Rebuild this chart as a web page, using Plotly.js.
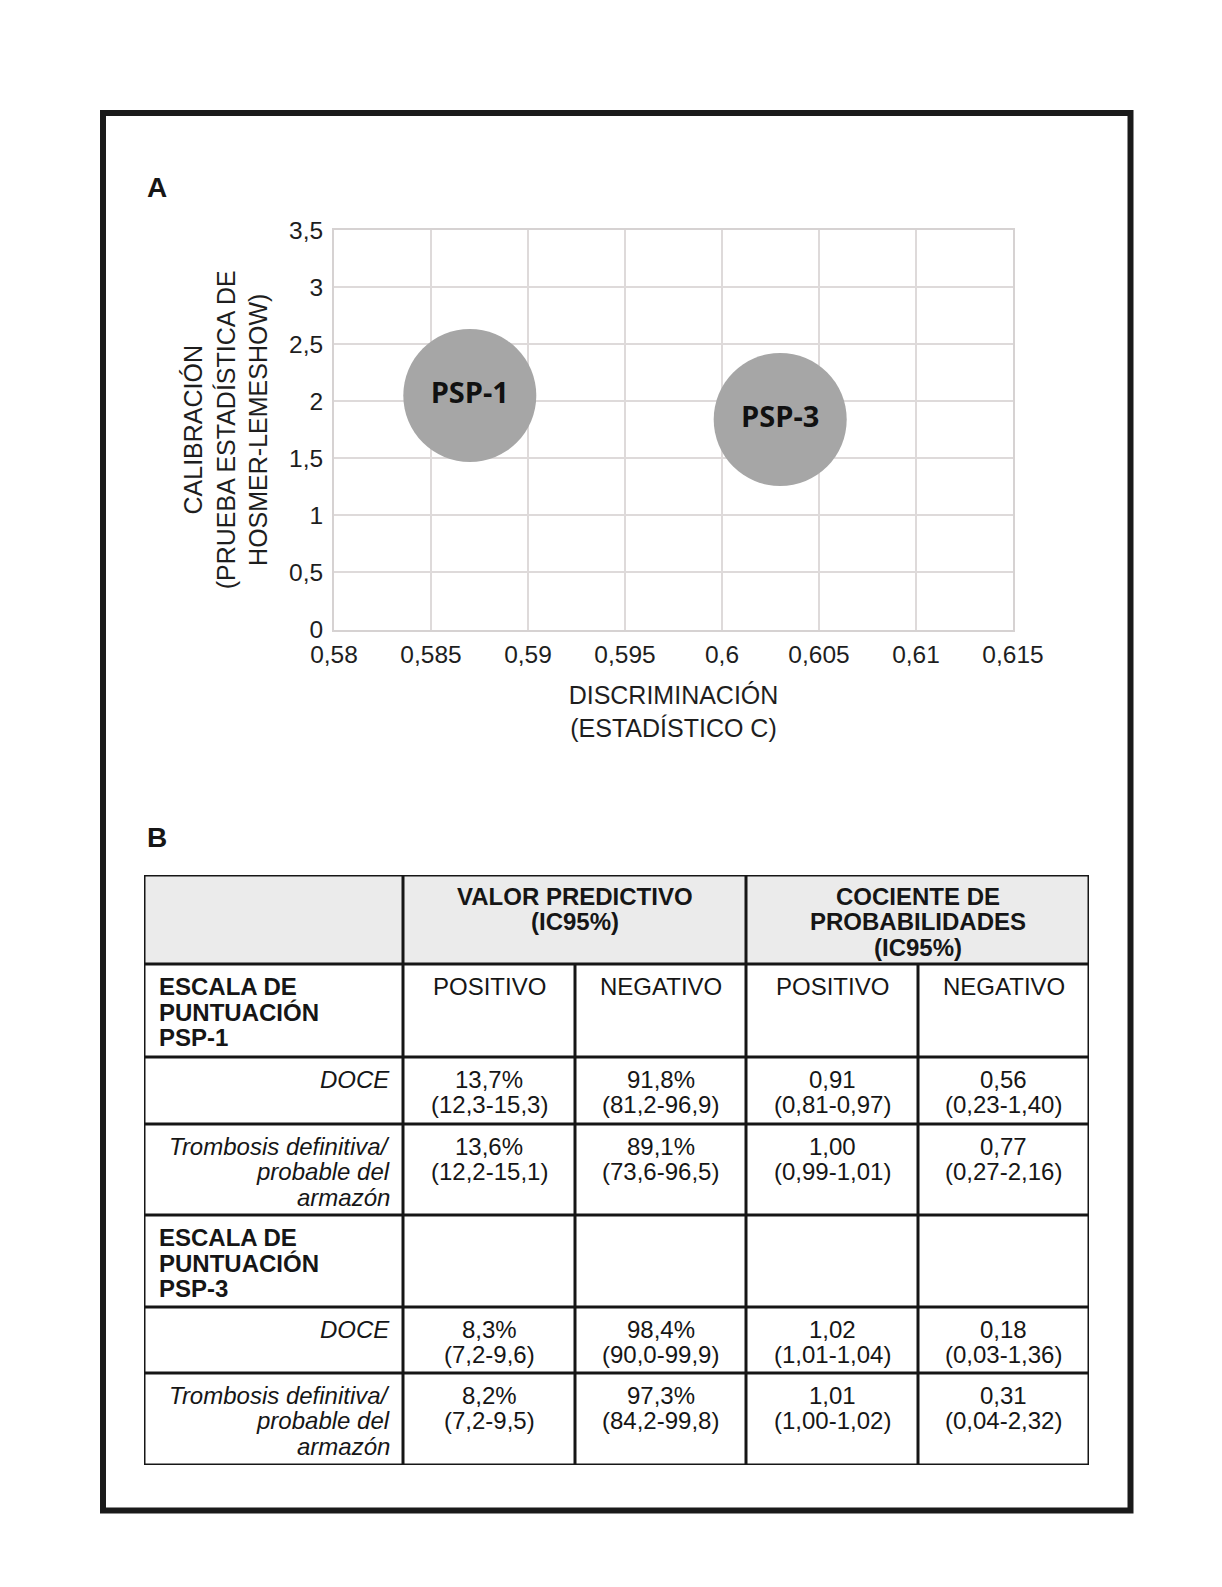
<!DOCTYPE html>
<html>
<head>
<meta charset="utf-8">
<script src="https://cdn.plot.ly/plotly-3.0.1.min.js"></script>
<style>
  html, body { margin: 0; padding: 0; background: #ffffff; }
  #chart { width: 1222px; height: 1587px; }
</style>
</head>
<body>
<div id="chart"></div>
<script>
// ---------------- Panel A data ----------------
const modelNames     = ['PSP-1', 'PSP-3'];
const discriminacion = [0.587, 0.603];   // estadístico C
const calibracion    = [2.05, 1.84];     // prueba de Hosmer-Lemeshow
const xTickVals   = [0.58, 0.585, 0.59, 0.595, 0.6, 0.605, 0.61, 0.615];
const xTickLabels = ['0,58', '0,585', '0,59', '0,595', '0,6', '0,605', '0,61', '0,615'];
const yTickVals   = [0, 0.5, 1, 1.5, 2, 2.5, 3, 3.5];
const yTickLabels = ['0', '0,5', '1', '1,5', '2', '2,5', '3', '3,5'];

// ---------------- Panel B data ----------------
const headerGroups = ['', 'VALOR PREDICTIVO\n(IC95%)', 'COCIENTE DE\nPROBABILIDADES\n(IC95%)'];
const rowLabels  = ['ESCALA DE\nPUNTUACIÓN\nPSP-1', 'DOCE', 'Trombosis definitiva/\nprobable del\narmazón',
                    'ESCALA DE\nPUNTUACIÓN\nPSP-3', 'DOCE', 'Trombosis definitiva/\nprobable del\narmazón'];
const rowKinds   = ['group', 'sub', 'sub', 'group', 'sub', 'sub'];
const vpPositivo = ['POSITIVO', '13,7%\n(12,3-15,3)', '13,6%\n(12,2-15,1)', '', '8,3%\n(7,2-9,6)', '8,2%\n(7,2-9,5)'];
const vpNegativo = ['NEGATIVO', '91,8%\n(81,2-96,9)', '89,1%\n(73,6-96,5)', '', '98,4%\n(90,0-99,9)', '97,3%\n(84,2-99,8)'];
const cpPositivo = ['POSITIVO', '0,91\n(0,81-0,97)', '1,00\n(0,99-1,01)', '', '1,02\n(1,01-1,04)', '1,01\n(1,00-1,02)'];
const cpNegativo = ['NEGATIVO', '0,56\n(0,23-1,40)', '0,77\n(0,27-2,16)', '', '0,18\n(0,03-1,36)', '0,31\n(0,04-2,32)'];

// ---------------- layout constants (px) ----------------
const W = 1222, H = 1587;
const plotL = 334, plotR = 1013, plotT = 230, plotB = 629.5;
const tabL = 144, tabT = 875;
const colW = [259, 172, 171, 172, 171];
const rowH = [89, 93, 67, 91, 92, 66, 92];
const tabW = colW.reduce((a, b) => a + b, 0);
const tabH = rowH.reduce((a, b) => a + b, 0);
const colEdge = [0]; colW.forEach(w => colEdge.push(colEdge[colEdge.length - 1] + w));
const rowEdge = [0]; rowH.forEach(h => rowEdge.push(rowEdge[rowEdge.length - 1] + h));

const FONT = 'Liberation Sans, Arial, Helvetica, sans-serif';
const INK = '#161616';
const GRID = '#dedada';

// ---------------- traces ----------------
const bubbles = {
  type: 'scatter', mode: 'markers+text',
  x: discriminacion, y: calibracion, text: modelNames,
  textposition: 'middle center',
  textfont: { family: 'Open Sans, Noto Sans, sans-serif', size: 29, weight: 700, color: '#111111' },
  marker: { size: 133, color: '#a6a6a6', line: { width: 0 }, opacity: 1 },
  cliponaxis: false, hoverinfo: 'x+y+text', showlegend: false,
  xaxis: 'x', yaxis: 'y'
};
const tableAnchor = {
  type: 'scatter', mode: 'markers', x: [], y: [],
  xaxis: 'x2', yaxis: 'y2', showlegend: false, hoverinfo: 'skip'
};

// ---------------- table shapes & text ----------------
const shapes = [];
const annotations = [];
const lineStyle = { color: INK, width: 3 };

// header background
shapes.push({ type: 'rect', xref: 'x2', yref: 'y2', x0: 0, x1: tabW, y0: 0, y1: rowH[0],
              fillcolor: '#ebebeb', line: { width: 0 }, layer: 'below' });
// horizontal rules
rowEdge.forEach(y => shapes.push({ type: 'line', xref: 'x2', yref: 'y2', x0: 0, x1: tabW, y0: y, y1: y, line: lineStyle }));
// vertical rules
colEdge.forEach((x, i) => {
  const merged = (i === 2 || i === 4);
  shapes.push({ type: 'line', xref: 'x2', yref: 'y2', x0: x, x1: x,
                y0: merged ? rowEdge[1] : 0, y1: tabH, line: lineStyle });
});

function addCellText(str, xPos, anchor, yTop, firstOffset, fontOpts) {
  if (!str) return;
  str.split('\n').forEach((ln, i) => {
    annotations.push({
      xref: 'x2', yref: 'y2', x: xPos, y: yTop + firstOffset + i * 25.5,
      xanchor: anchor, yanchor: 'middle', showarrow: false,
      text: ln, font: Object.assign({ family: FONT, size: 24, color: INK }, fontOpts || {})
    });
  });
}

// header group texts
addCellText(headerGroups[1], (colEdge[1] + colEdge[3]) / 2, 'center', 0, 21, { weight: 700 });
addCellText(headerGroups[2], (colEdge[3] + colEdge[5]) / 2, 'center', 0, 21, { weight: 700 });

// body
const valueCols = [vpPositivo, vpNegativo, cpPositivo, cpNegativo];
rowLabels.forEach((lab, r) => {
  const top = rowEdge[r + 1];
  if (rowKinds[r] === 'group') {
    addCellText(lab, 13, 'left', top, 22.5, { weight: 700 });
  } else {
    addCellText(lab.split('\n').map(s => '<i>' + s + '</i>').join('\n'), colW[0] - 11, 'right', top, 22);
  }
  valueCols.forEach((col, c) => {
    addCellText(col[r], (colEdge[c + 1] + colEdge[c + 2]) / 2, 'center', top, 22);
  });
});

// panel letters
annotations.push({ xref: 'paper', yref: 'paper', x: 145 / W, y: 1 - 187.5 / H, xanchor: 'left', yanchor: 'middle',
  showarrow: false, text: 'A', font: { family: FONT, size: 28, weight: 700, color: INK } });
annotations.push({ xref: 'paper', yref: 'paper', x: 145 / W, y: 1 - 837 / H, xanchor: 'left', yanchor: 'middle',
  showarrow: false, text: 'B', font: { family: FONT, size: 28, weight: 700, color: INK } });

// outer frame
shapes.push({ type: 'rect', xref: 'paper', yref: 'paper',
  x0: 103 / W, x1: 1130.5 / W, y0: 1 - 1510.5 / H, y1: 1 - 113 / H,
  line: { color: '#1a1a1a', width: 6 }, fillcolor: 'rgba(0,0,0,0)' });

const layout = {
  width: W, height: H,
  margin: { l: 0, r: 0, t: 0, b: 0, pad: 0 },
  paper_bgcolor: '#ffffff', plot_bgcolor: '#ffffff',
  font: { family: FONT, color: '#1e1e1e' },
  showlegend: false,
  xaxis: {
    domain: [plotL / W, plotR / W], range: [0.58, 0.615],
    tickmode: 'array', tickvals: xTickVals, ticktext: xTickLabels,
    ticks: '', ticklabelstandoff: 2,
    tickfont: { family: FONT, size: 24.5, color: '#1e1e1e' },
    showgrid: true, gridcolor: GRID, gridwidth: 2,
    showline: true, mirror: true, linecolor: '#d6d2d2', linewidth: 2,
    zeroline: false, fixedrange: true,
    title: { text: 'DISCRIMINACIÓN<br>(ESTADÍSTICO C)', font: { family: FONT, size: 25, color: '#1e1e1e' }, standoff: 20 }
  },
  yaxis: {
    domain: [1 - plotB / H, 1 - plotT / H], range: [0, 3.5],
    tickmode: 'array', tickvals: yTickVals, ticktext: yTickLabels,
    ticks: '', ticklabelstandoff: 4,
    tickfont: { family: FONT, size: 24.5, color: '#1e1e1e' },
    showgrid: true, gridcolor: GRID, gridwidth: 2,
    showline: true, mirror: true, linecolor: '#d6d2d2', linewidth: 2,
    zeroline: false, fixedrange: true,
    title: { text: 'CALIBRACIÓN<br>(PRUEBA ESTADÍSTICA DE<br>HOSMER-LEMESHOW)', font: { family: FONT, size: 25, color: '#1e1e1e' }, standoff: 14 }
  },
  xaxis2: { domain: [tabL / W, (tabL + tabW) / W], range: [0, tabW], visible: false, fixedrange: true },
  yaxis2: { domain: [1 - (tabT + tabH) / H, 1 - tabT / H], range: [tabH, 0], visible: false, fixedrange: true },
  shapes: shapes,
  annotations: annotations
};

Plotly.newPlot('chart', [bubbles, tableAnchor], layout, { displayModeBar: false, staticPlot: true });
</script>
</body>
</html>
